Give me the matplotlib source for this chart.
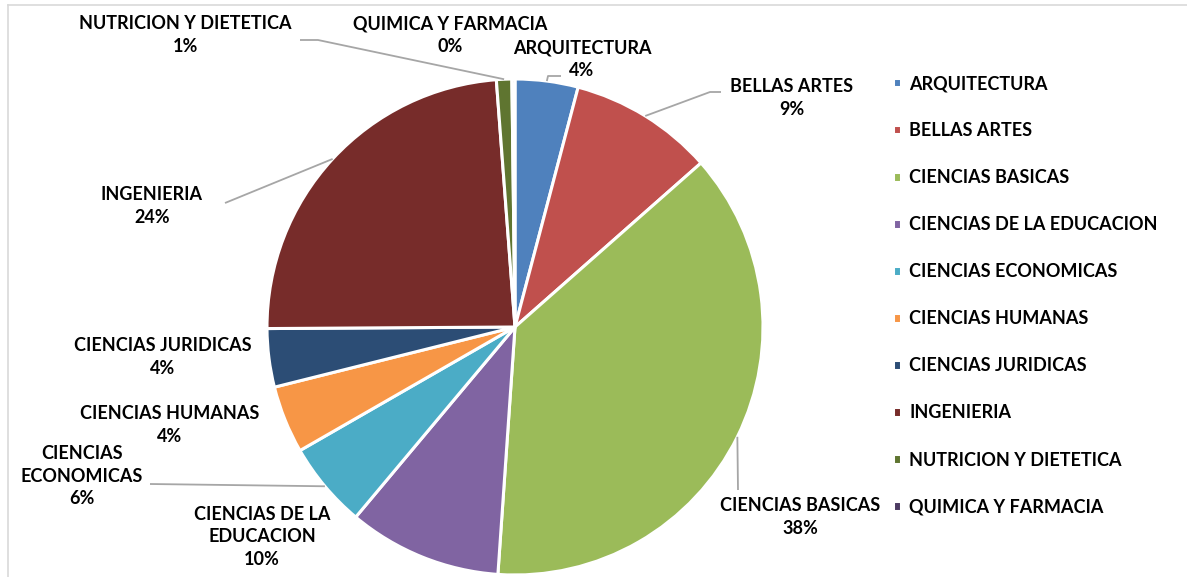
import numpy as np
import matplotlib.pyplot as plt
from matplotlib.lines import Line2D

# Datos
facultades = ['ARQUITECTURA', 'BELLAS ARTES', 'CIENCIAS BASICAS',
              'CIENCIAS DE LA EDUCACION', 'CIENCIAS ECONOMICAS',
              'CIENCIAS HUMANAS', 'CIENCIAS JURIDICAS', 'INGENIERIA',
              'NUTRICION Y DIETETICA', 'QUIMICA Y FARMACIA']
porcentajes = [4.1, 9.4, 37.6, 10.0, 5.6, 4.4, 3.8, 23.9, 1.0, 0.2]
colores = ['#4F81BD', '#C0504D', '#9BBB59', '#8064A2', '#4BACC6',
           '#F79646', '#2C4D75', '#772C2A', '#5F7530', '#4D3B62']

# Texto de las etiquetas (con saltos de linea como en el original)
etiquetas = ['ARQUITECTURA', 'BELLAS ARTES', 'CIENCIAS BASICAS',
             'CIENCIAS DE LA\nEDUCACION', 'CIENCIAS\nECONOMICAS',
             'CIENCIAS HUMANAS', 'CIENCIAS JURIDICAS', 'INGENIERIA',
             'NUTRICION Y DIETETICA', 'QUIMICA Y FARMACIA']

# Disposicion (pixeles de la figura): centro de cada etiqueta
pos_etiq = [(582, 59), (792, 98), (800, 517), (262, 537), (82, 476),
            (170, 425), (163, 357), (152, 206), (185, 35), (450, 35)]
# Puntos de quiebre de las lineas guia (None = sin linea)
guias = [[(548, 76), (561, 76)],
         [(710, 92), (721, 92)],
         [(738, 490)],
         None,
         [(150, 484)],
         None,
         None,
         [(225, 203)],
         [(318, 40), (300, 40)],
         None]

W, H = 1187, 577
CX, CY, R = 515, 327, 248


def px(p):
    return ((p[0] - CX) / R, (CY - p[1]) / R)


plt.rcParams['font.family'] = ['Lato', 'DejaVu Sans']
plt.rcParams['font.weight'] = 'bold'

fig = plt.figure(figsize=(W / 100, H / 100), dpi=100)
ax = fig.add_axes([0, 0, 1, 1])

wedges, _ = ax.pie(porcentajes, colors=colores, startangle=90,
                   counterclock=False, radius=1, center=(0, 0),
                   wedgeprops=dict(edgecolor='white', linewidth=2.2),
                   frame=True)
ax.set_xlim(-CX / R, (W - CX) / R)
ax.set_ylim((CY - H) / R, CY / R)
ax.set_aspect('auto')
ax.axis('off')

total = sum(porcentajes)
acum = 0
for i, v in enumerate(porcentajes):
    medio = (acum + v / 2) / total * 2 * np.pi
    acum += v
    xw, yw = np.sin(medio), np.cos(medio)
    tx, ty = px(pos_etiq[i])
    ax.text(tx, ty, f'{etiquetas[i]}\n{v:.0f}%', ha='center', va='center',
            fontsize=13, fontweight='bold', color='#000000',
            linespacing=1.4)
    if guias[i] is not None:
        pts = [(xw, yw)] + [px(p) for p in guias[i]]
        xs, ys = zip(*pts)
        ax.plot(xs, ys, color='#A6A6A6', lw=1.3, solid_capstyle='butt')

ax.legend(wedges, facultades, loc='upper left',
          bbox_to_anchor=(893 / W, 1 - 75 / H), bbox_transform=fig.transFigure,
          frameon=False, fontsize=13, handlelength=0.45, handleheight=0.45,
          handletextpad=0.45, labelspacing=1.665, borderpad=0,
          borderaxespad=0)

# Borde del area del grafico
fig.add_artist(Line2D([8 / W, 1], [1 - 5 / H, 1 - 5 / H], color='#D9D9D9',
                      lw=1.2, transform=fig.transFigure))
fig.add_artist(Line2D([8 / W, 8 / W], [0, 1 - 5 / H], color='#D9D9D9',
                      lw=1.2, transform=fig.transFigure))

fig.savefig('out.png', dpi=100)
